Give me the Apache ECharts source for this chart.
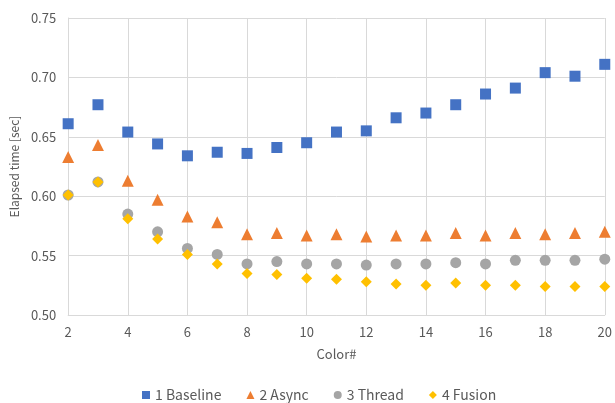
<!DOCTYPE html>
<html><head><meta charset="utf-8">
<script src="https://cdn.jsdelivr.net/npm/echarts@6/dist/echarts.min.js"></script>
<style>html,body{margin:0;padding:0;background:#fff}#c{width:615px;height:403px}</style>
</head><body><div id="c"></div>
<script>
const colors = [2,3,4,5,6,7,8,9,10,11,12,13,14,15,16,17,18,19,20];
const baseline = [0.661,0.677,0.654,0.644,0.634,0.637,0.636,0.641,0.645,0.654,0.655,0.666,0.670,0.677,0.686,0.691,0.704,0.701,0.711];
const async_ = [0.633,0.643,0.613,0.597,0.583,0.578,0.568,0.569,0.567,0.568,0.566,0.567,0.567,0.569,0.567,0.569,0.568,0.569,0.570];
const thread = [0.601,0.612,0.585,0.570,0.556,0.551,0.543,0.545,0.543,0.543,0.542,0.543,0.543,0.544,0.543,0.546,0.546,0.546,0.547];
const fusion = [0.601,0.612,0.581,0.564,0.551,0.543,0.535,0.534,0.531,0.530,0.528,0.526,0.525,0.527,0.525,0.525,0.524,0.524,0.524];
const seriesNames = ['1 Baseline','2 Async','3 Thread','4 Fusion'];
const yTicks = ['0.50','0.55','0.60','0.65','0.70','0.75'];

const font = '"Noto Sans CJK JP", "Noto Sans", sans-serif';
const txt = '#595959';
const pair = arr => colors.map((c,i)=>[c,arr[i]]);
const mk = (name, data, symbol, size, color) => ({
  name, type:'scatter', data: pair(data), symbol, symbolSize:size,
  itemStyle:{color, opacity:1}, z: 2
});
const chart = echarts.init(document.getElementById('c'), null, {renderer:'canvas'});
chart.setOption({
  animation:false,
  textStyle:{fontFamily:font},
  grid:{left:67, right:8, top:18, bottom:88, containLabel:false},
  xAxis:{type:'value', min:2, max:20, interval:2,
    name:'Color#', nameLocation:'middle', nameGap:33,
    nameTextStyle:{color:txt, fontSize:13, fontFamily:font},
    axisLine:{show:true, lineStyle:{color:'#d9d9d9', width:1}},
    axisTick:{show:false},
    axisLabel:{color:txt, fontSize:13, margin:11, fontFamily:font},
    splitLine:{show:true, lineStyle:{color:'#d9d9d9', width:1}}
  },
  yAxis:{type:'value', min:0.5, max:0.75, interval:0.05,
    name:'Elapsed time [sec]', nameLocation:'middle', nameGap:46,
    nameTextStyle:{color:txt, fontSize:12, fontFamily:font},
    axisLine:{show:true, lineStyle:{color:'#d9d9d9', width:1}},
    axisTick:{show:false},
    axisLabel:{color:txt, fontSize:13, margin:12, fontFamily:font,
      formatter: v => yTicks[Math.round((v-0.5)/0.05)]},
    splitLine:{show:true, lineStyle:{color:'#d9d9d9', width:1}}
  },
  legend:{bottom:-4, left:137, itemWidth:8, itemHeight:8, itemGap:25,
    textStyle:{color:txt, fontSize:14, fontFamily:font},
    data:[
      {name:seriesNames[0], icon:'rect'},
      {name:seriesNames[1], icon:'triangle'},
      {name:seriesNames[2], icon:'circle'},
      {name:seriesNames[3], icon:'diamond'}
    ]},
  series:[
    mk(seriesNames[0], baseline, 'rect', 11, '#4472C4'),
    mk(seriesNames[1], async_, 'triangle', 12, '#ED7D31'),
    mk(seriesNames[2], thread, 'circle', 11, '#A5A5A5'),
    mk(seriesNames[3], fusion, 'diamond', 11, '#FFC000')
  ]
});
</script></body></html>
